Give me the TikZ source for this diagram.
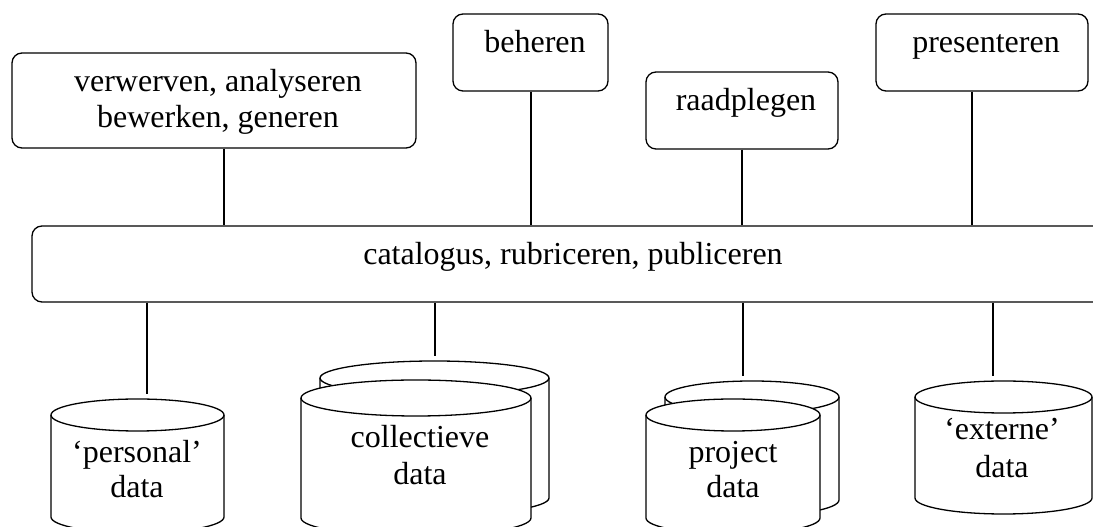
\documentclass[tikz,border=0pt]{standalone}
\usepackage{fontspec}
\setmainfont{Liberation Serif}
\newcommand{\dbcyl}[5]{%
  \draw[fill=white] (#1-#3,#2) -- (#1-#3,#5) arc[start angle=180,end angle=360,x radius=#3pt,y radius=#4pt] -- (#1+#3,#2) arc[start angle=0,end angle=180,x radius=#3pt,y radius=#4pt] -- cycle;
  \draw (#1-#3,#2) arc[start angle=180,end angle=360,x radius=#3pt,y radius=#4pt];
}
\begin{document}
\begin{tikzpicture}[x=1pt,y=1pt,line width=1.3pt,
  box/.style={draw,rectangle,rounded corners=10pt,inner sep=0pt},
  lbl/.style={inner sep=0pt,anchor=base,font=\fontsize{32}{35}\selectfont},
  conn/.style={line width=1.3pt}]
\useasboundingbox (0,0) rectangle (1093,527);
\clip (0,0) rectangle (1093,527);

% top boxes
\node[box,minimum width=404pt,minimum height=95pt] (tl) at (214,426.5) {};
\node[lbl] (tlA) at (218,435) {verwerven, analyseren};
\node[lbl] (tlB) at (218,399) {bewerken, generen};

\node[box,minimum width=155pt,minimum height=77pt] (beh) at (530.5,474.5) {};
\node[lbl] (behT) at (535,474) {beheren};

\node[box,minimum width=192pt,minimum height=77pt] (raad) at (742,416.5) {};
\node[lbl] (raadT) at (746,416) {raadplegen};

\node[box,minimum width=212pt,minimum height=77pt] (pres) at (982,474.5) {};
\node[lbl] (presT) at (986,474) {presenteren};

% central bar
\node[box,minimum width=1108pt,minimum height=76pt] (cat) at (586,263) {};
\node[lbl] (catT) at (573,262) {catalogus, rubriceren, publiceren};

% connector columns
\coordinate (u1) at (224,0);
\coordinate (u2) at (531,0);
\coordinate (u3) at (742,0);
\coordinate (u4) at (972,0);
\draw[conn] (tl.south -| u1) -- (cat.north -| u1);
\draw[conn] (beh.south -| u2) -- (cat.north -| u2);
\draw[conn] (raad.south -| u3) -- (cat.north -| u3);
\draw[conn] (pres.south -| u4) -- (cat.north -| u4);

% cylinders
\dbcyl{137.5}{112}{86.5}{16}{10}
\dbcyl{434.5}{149}{114.5}{17}{29}
\dbcyl{416}{129}{115}{18}{9}
\dbcyl{752}{130}{87}{16}{27}
\dbcyl{733}{112}{87}{16}{9}
\dbcyl{1003.5}{130}{88.5}{16}{29}

\coordinate (pers) at (147,128);
\coordinate (coll) at (435,166);
\coordinate (proj) at (743,146);
\coordinate (ext) at (993,146);
\draw[conn,shorten >=5pt] (cat.south -| pers) -- (pers);
\draw[conn,shorten >=5pt] (cat.south -| coll) -- (coll);
\draw[conn,shorten >=5pt] (cat.south -| proj) -- (proj);
\draw[conn,shorten >=5pt] (cat.south -| ext) -- (ext);

% cylinder labels
\node[lbl] (persA) at (137,64) {‘personal’};
\node[lbl] (persB) at (137,29) {data};
\node[lbl] (collA) at (420,79) {collectieve};
\node[lbl] (collB) at (420,42) {data};
\node[lbl] (projA) at (733,64) {project};
\node[lbl] (projB) at (733,29) {data};
\node[lbl] (extA) at (1002,87) {‘externe’};
\node[lbl] (extB) at (1002,49) {data};
\end{tikzpicture}
\end{document}
